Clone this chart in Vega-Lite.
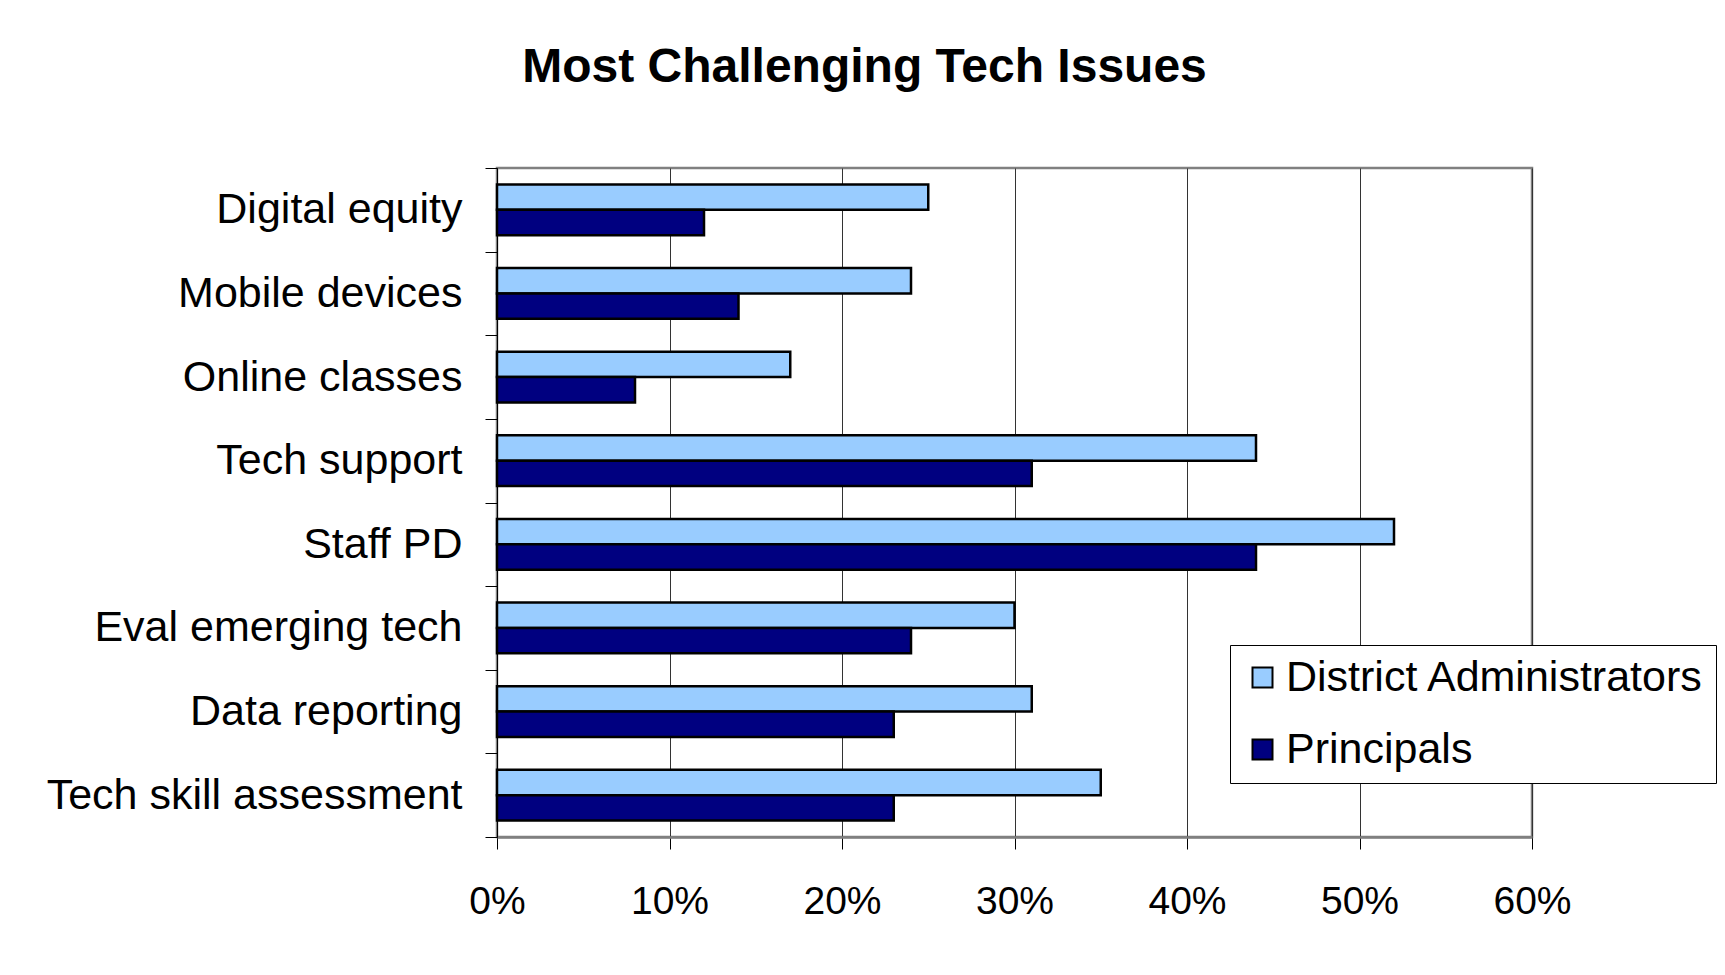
{
  "$schema": "https://vega.github.io/schema/vega-lite/v6.json",
  "autosize": {"type": "none"},
  "padding": {"left": 497, "top": 168, "right": 193, "bottom": 138},
  "width": 1035,
  "height": 669,
  "background": "white",
  "title": {
    "text": "Most Challenging Tech Issues",
    "font": "Liberation Sans",
    "fontSize": 48,
    "fontWeight": "bold",
    "color": "#000000",
    "anchor": "middle",
    "baseline": "alphabetic",
    "offset": 17,
    "dx": -150
  },
  "data": {
    "values": [
      {"issue": "Digital equity", "group": "District Administrators", "value": 0.25},
      {"issue": "Digital equity", "group": "Principals", "value": 0.12},
      {"issue": "Mobile devices", "group": "District Administrators", "value": 0.24},
      {"issue": "Mobile devices", "group": "Principals", "value": 0.14},
      {"issue": "Online classes", "group": "District Administrators", "value": 0.17},
      {"issue": "Online classes", "group": "Principals", "value": 0.08},
      {"issue": "Tech support", "group": "District Administrators", "value": 0.44},
      {"issue": "Tech support", "group": "Principals", "value": 0.31},
      {"issue": "Staff PD", "group": "District Administrators", "value": 0.52},
      {"issue": "Staff PD", "group": "Principals", "value": 0.44},
      {"issue": "Eval emerging tech", "group": "District Administrators", "value": 0.30},
      {"issue": "Eval emerging tech", "group": "Principals", "value": 0.24},
      {"issue": "Data reporting", "group": "District Administrators", "value": 0.31},
      {"issue": "Data reporting", "group": "Principals", "value": 0.23},
      {"issue": "Tech skill assessment", "group": "District Administrators", "value": 0.35},
      {"issue": "Tech skill assessment", "group": "Principals", "value": 0.23}
    ]
  },
  "mark": {"type": "bar", "stroke": "#000000", "strokeWidth": 2.5, "cornerRadius": 0},
  "encoding": {
    "y": {
      "field": "issue",
      "type": "nominal",
      "sort": ["Digital equity", "Mobile devices", "Online classes", "Tech support", "Staff PD", "Eval emerging tech", "Data reporting", "Tech skill assessment"],
      "scale": {"paddingInner": 0, "paddingOuter": 0},
      "axis": {
        "title": null,
        "tickBand": "extent",
        "ticks": true,
        "tickSize": 12,
        "tickColor": "#000000",
        "tickWidth": 1,
        "domainColor": "#000000",
        "domainWidth": 1,
        "labelFont": "Liberation Sans",
        "labelFontSize": 43,
        "labelColor": "#000000",
        "labelPadding": 23,
        "labelLimit": 600,
        "grid": false
      }
    },
    "yOffset": {
      "field": "group",
      "type": "nominal",
      "sort": ["District Administrators", "Principals"],
      "scale": {"paddingInner": 0, "paddingOuter": 0.65}
    },
    "x": {
      "field": "value",
      "type": "quantitative",
      "scale": {"domain": [0, 0.6], "nice": false},
      "axis": {
        "title": null,
        "format": ".0%",
        "values": [0, 0.1, 0.2, 0.3, 0.4, 0.5, 0.6],
        "tickSize": 12,
        "tickColor": "#000000",
        "tickWidth": 1,
        "domainColor": "#808080",
        "domainWidth": 2.5,
        "grid": true,
        "gridColor": "#333333",
        "gridWidth": 1,
        "gridOpacity": 1,
        "labelFont": "Liberation Sans",
        "labelFontSize": 39,
        "labelColor": "#000000",
        "labelPadding": 33,
        "labelFlush": false
      }
    },
    "color": {
      "field": "group",
      "type": "nominal",
      "sort": ["District Administrators", "Principals"],
      "scale": {"domain": ["District Administrators", "Principals"], "range": ["#99CCFF", "#000080"]},
      "legend": {
        "title": null,
        "orient": "none",
        "legendX": 733,
        "legendY": 477,
        "fillColor": "#FFFFFF",
        "strokeColor": "#000000",
        "padding": 11,
        "symbolType": "square",
        "symbolSize": 400,
        "symbolStrokeColor": "#000000",
        "symbolStrokeWidth": 2,
        "symbolOpacity": 1,
        "labelFont": "Liberation Sans",
        "labelFontSize": 43,
        "labelColor": "#000000",
        "labelOffset": 2,
        "labelLimit": 600,
        "rowPadding": 28
      }
    }
  },
  "config": {
    "view": {"stroke": "#808080", "strokeWidth": 2.5}
  }
}
